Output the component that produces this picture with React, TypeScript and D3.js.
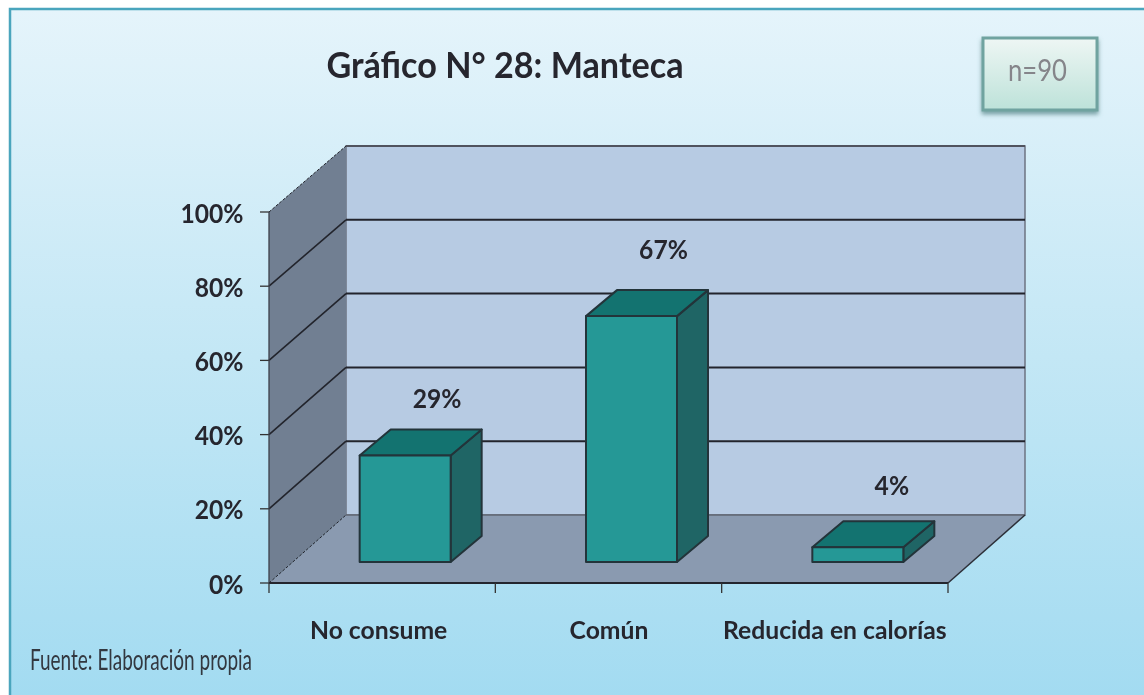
import React from "react";
import * as d3 from "d3";

const categories = ["No consume", "Común", "Reducida en calorías"];
const values = [29, 67, 4];
const valueLabels = ["29%", "67%", "4%"];
const tickValues = [0, 20, 40, 60, 80, 100];
const titleText = "Gráfico N° 28: Manteca";
const sourceText = "Fuente: Elaboración propia";
const sampleText = "n=90";

const W = 1144, H = 695;
const frontLeft = 269, frontRight = 948, front0 = 583, front100 = 212;
const dx = 77;
const back0 = 515, back100 = 146;
const barDepthX = 31, barDepthY = -26;
const barShiftX = 23, barBase = 562, barW = 91;
const labelLift = [48, 57, 52];
const labelShift = [32, 32, 34];

const font = "Lato, 'Open Sans', sans-serif";
const ink = "#26262e";

const x = d3.scaleBand<string>().domain(categories).range([frontLeft, frontRight]);
const y = d3.scaleLinear().domain([0, 100]).range([front0, front100]);
const yBack = d3.scaleLinear().domain([0, 100]).range([back0, back100]);
const barH = d3.scaleLinear().domain([0, 100]).range([0, 367]);
const poly = d3.line<[number, number]>();

export default function App() {
  return (
    <svg width={W} height={H} viewBox={`0 0 ${W} ${H}`} style={{ position: "absolute", left: 0, top: 0, display: "block" }}>
      <defs>
        <linearGradient id="bg" x1="0" y1="0" x2="0" y2="1">
          <stop offset="0" stopColor="#e5f4fb" />
          <stop offset="0.5" stopColor="#c3e7f5" />
          <stop offset="1" stopColor="#a2dbf1" />
        </linearGradient>
        <linearGradient id="nbox" x1="0" y1="0" x2="0" y2="1">
          <stop offset="0" stopColor="#eef6f4" />
          <stop offset="1" stopColor="#bde2d9" />
        </linearGradient>
        <filter id="soft" x="-5%" y="-20%" width="110%" height="140%"><feGaussianBlur stdDeviation="0.45" /></filter>
        <filter id="softer" x="-5%" y="-20%" width="110%" height="140%"><feGaussianBlur stdDeviation="0.7" /></filter>
        <filter id="shadow" x="-10%" y="-10%" width="120%" height="130%">
          <feDropShadow dx="0" dy="3" stdDeviation="2" floodColor="#4f7f80" floodOpacity="0.7" />
        </filter>
      </defs>
      <rect width={W} height={H} fill="#fff" />
      <rect x={10} y={9} width={W} height={H} fill="url(#bg)" stroke="#4aa5bd" strokeWidth={2.5} />

      <text x={505} y={78} textAnchor="middle" fontFamily={font} fontWeight={700} fontSize={37} fill={ink} textLength={357} lengthAdjust="spacingAndGlyphs" filter="url(#soft)">{titleText}</text>

      <rect x={983} y={38} width={114} height={72} fill="url(#nbox)" stroke="#70a3a0" strokeWidth={3} filter="url(#shadow)" />
      <text x={1037.5} y={81} textAnchor="middle" fontFamily={font} fontSize={31} fill="#85858a" textLength={59} lengthAdjust="spacingAndGlyphs" filter="url(#softer)">{sampleText}</text>

      {/* walls */}
      <path d={poly([[frontLeft + dx, yBack(100)], [frontRight + dx, yBack(100)], [frontRight + dx, yBack(0)], [frontLeft + dx, yBack(0)]])! + "Z"} fill="#b7cbe3" stroke="#6d7482" strokeWidth={1.5} />
      <path d={poly([[frontLeft, y(0)], [frontLeft + dx, yBack(0)], [frontRight + dx, yBack(0)], [frontRight, y(0)]])! + "Z"} fill="#8a9ab0" />
      <path d={poly([[frontLeft, y(100)], [frontLeft + dx, yBack(100)], [frontLeft + dx, yBack(0)], [frontLeft, y(0)]])! + "Z"} fill="#717f92" />
      <line x1={frontLeft + dx} x2={frontRight + dx} y1={yBack(100)} y2={yBack(100)} stroke="#50535e" strokeWidth={2} />
      <line x1={frontLeft + dx} x2={frontRight + dx} y1={yBack(0)} y2={yBack(0)} stroke="#5f6672" strokeWidth={1.5} />
      <line x1={frontRight} x2={frontRight + dx} y1={y(0)} y2={yBack(0)} stroke="#2c2f38" strokeWidth={1.5} />

      {/* gridlines */}
      {tickValues.map((t) => {
        const edge = t === 0 || t === 100;
        return (
          <g key={t}>
            <line x1={frontLeft} y1={y(t)} x2={frontLeft + dx} y2={yBack(t)} stroke="#22242c" strokeWidth={edge ? 1 : 1.6} strokeDasharray={edge ? "3 1.5" : undefined} />
            {!edge && <line x1={frontLeft + dx} x2={frontRight + dx} y1={yBack(t)} y2={yBack(t)} stroke="#22242c" strokeWidth={2} />}
            <line x1={frontLeft - 9} x2={frontLeft} y1={y(t)} y2={y(t)} stroke="#333" strokeWidth={1.3} />
            <text transform={`translate(243.5,${y(t) + 10.5}) scale(0.93,1)`} textAnchor="end" fontFamily={font} fontWeight={700} fontSize={26.5} fill={ink} filter="url(#soft)">{t}%</text>
          </g>
        );
      })}
      <line x1={frontLeft} x2={frontLeft} y1={y(100)} y2={y(0)} stroke="#3c404a" strokeWidth={1.3} />

      {/* category axis */}
      <line x1={frontLeft} x2={frontRight} y1={y(0)} y2={y(0)} stroke="#24262e" strokeWidth={2} />
      {[frontLeft, ...categories.map((c) => x(c)! + x.bandwidth())].map((px) => (
        <line key={px} x1={px} x2={px} y1={y(0)} y2={y(0) + 10} stroke="#333" strokeWidth={1.3} />
      ))}
      {categories.map((c, i) => (
        <text key={c} x={x(c)! + x.bandwidth() / 2 + [-3.5, 0.5, 0][i]} y={639} textAnchor="middle" fontFamily={font} fontWeight={700} fontSize={24.7} fill={ink} filter="url(#soft)">{c}</text>
      ))}

      {/* bars */}
      {categories.map((c, i) => {
        const cx = x(c)! + x.bandwidth() / 2 + barShiftX;
        const l = cx - barW / 2, r = cx + barW / 2;
        const t = barBase - barH(values[i]);
        return (
          <g key={c} stroke="#23343a" strokeWidth={2} strokeLinejoin="round">
            <path d={poly([[r, barBase], [r + barDepthX, barBase + barDepthY], [r + barDepthX, t + barDepthY], [r, t]])! + "Z"} fill="#1f6565" />
            <path d={poly([[l, t], [r, t], [r + barDepthX, t + barDepthY], [l + barDepthX, t + barDepthY]])! + "Z"} fill="#137370" />
            <rect x={l} y={t} width={barW} height={barBase - t} fill="#259896" />
            <text transform={`translate(${cx + labelShift[i]},${t - labelLift[i]}) scale(0.93,1)`} textAnchor="middle" stroke="none" fontFamily={font} fontWeight={700} fontSize={26.5} fill={ink} filter="url(#soft)">{valueLabels[i]}</text>
          </g>
        );
      })}

      <text x={30} y={670} fontFamily={font} fontSize={29} fill="#33373f" textLength={222} lengthAdjust="spacingAndGlyphs" filter="url(#soft)">{sourceText}</text>
    </svg>
  );
}
